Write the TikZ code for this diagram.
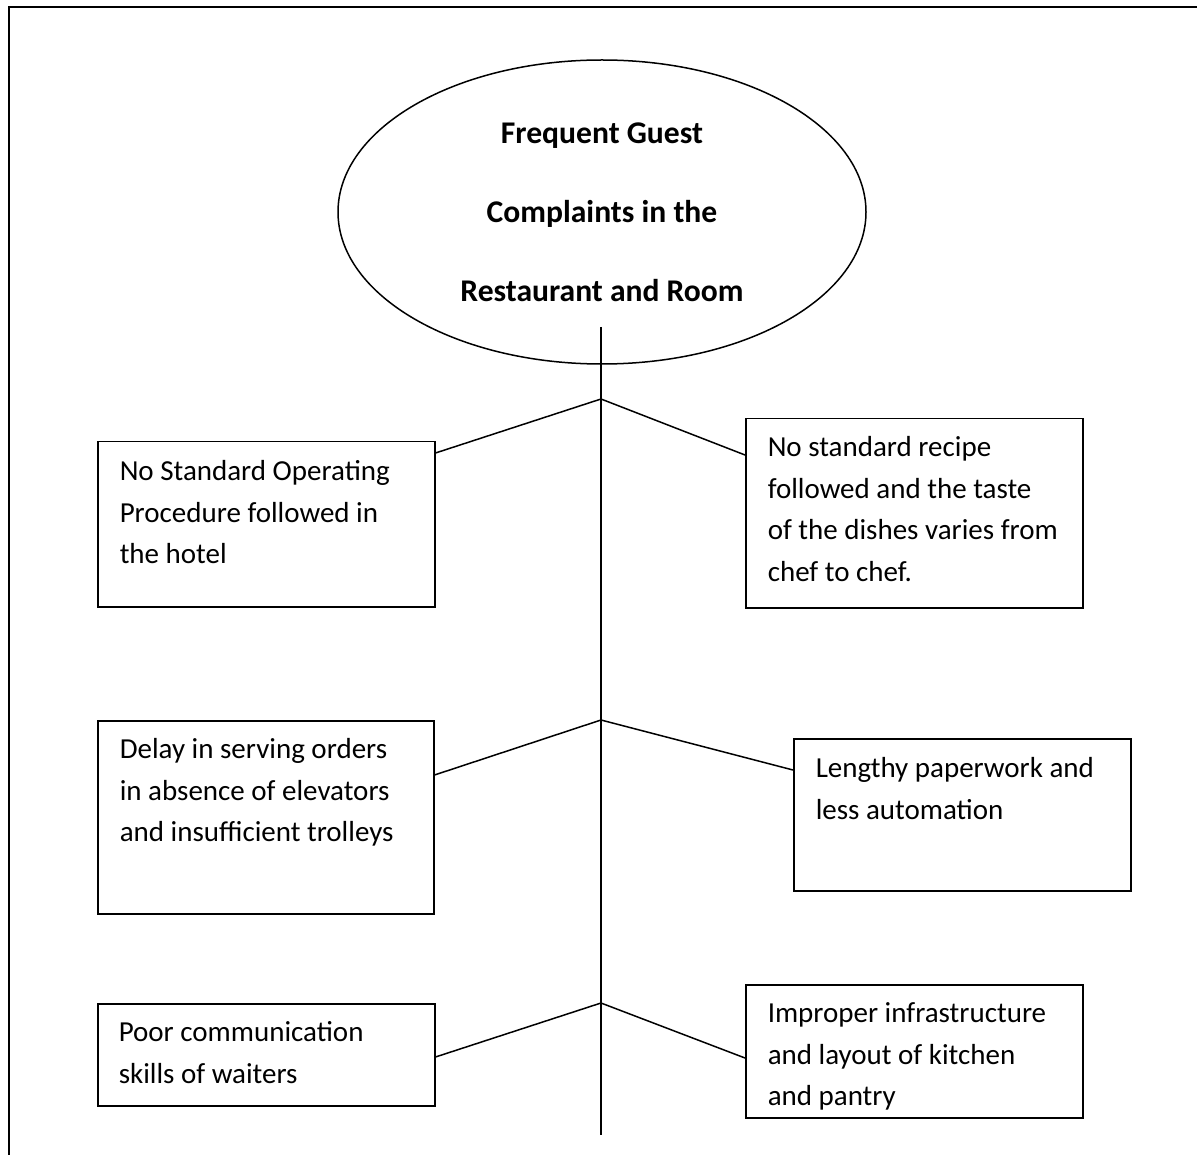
\documentclass[tikz,border=0pt]{standalone}
\usepackage{fontspec}
\setmainfont{Carlito}
\usetikzlibrary{shapes.geometric}

\newcommand{\causefont}{\fontsize{29}{41.5}\selectfont}
\newcommand{\titlefont}{\bfseries\fontsize{31.6}{79}\selectfont}

\begin{document}
\begin{tikzpicture}[x=1pt,y=-1pt,line width=1.5pt,
    goalshape/.style={draw,ellipse,minimum width=528,minimum height=304,inner sep=0pt,align=center,font=\titlefont},
    causebox/.style={draw,rectangle,anchor=north west,inner sep=0pt},
    causetext/.style={anchor=north west,inner sep=0pt,align=left,font=\causefont,execute at begin node=\strut}]
  \useasboundingbox (0,0) rectangle (1197,1155);

  % page frame
  \draw[line width=1.8pt] (9,1155) -- (9,7) -- (1197,7);

  % goal
  \node[goalshape] (goal) at (602,212) {Frequent Guest\\Complaints in the\\Restaurant and Room};

  % spine and junctions
  \coordinate (spinetop) at (601,327);
  \coordinate (spinebot) at (601,1135);
  \coordinate (j1) at (601,399);
  \coordinate (j2) at (601,720);
  \coordinate (j3) at (601,1003);
  \draw (spinetop) -- (spinebot);

  % cause boxes: name/left/top/width/height
  \foreach \nm/\bx/\by/\bw/\bh in {sop/97/441/337/165, recipe/745/418/337/189,
      delay/97/720/336/193, paper/793/738/337/152, comm/97/1003/337/102, infra/745/984/337/133}
    \node[causebox,minimum width=\bw,minimum height=\bh] (\nm) at (\bx,\by) {};

  % texts
  \node[causetext] (sopT) at ([xshift=22pt,yshift=-19pt]sop.north west)
    {No Standard Operating\\Procedure followed in\\the hotel};
  \node[causetext] (recipeT) at ([xshift=22pt,yshift=-18pt]recipe.north west)
    {No standard recipe\\followed and the taste\\of the dishes varies from\\chef to chef.};
  \node[causetext] (delayT) at ([xshift=22pt,yshift=-18pt]delay.north west)
    {Delay in serving orders\\in absence of elevators\\and insufficient trolleys};
  \node[causetext] (paperT) at ([xshift=22pt,yshift=-19pt]paper.north west)
    {Lengthy paperwork and\\less automation};
  \node[causetext] (commT) at ([xshift=21pt,yshift=-18pt]comm.north west)
    {Poor communication\\skills of waiters};
  \node[causetext] (infraT) at ([xshift=22pt,yshift=-18pt]infra.north west)
    {Improper infrastructure\\and layout of kitchen\\and pantry};

  % branches
  \draw (j1) -- ([yshift=-12pt]sop.north east);
  \draw (j1) -- ([yshift=-37pt]recipe.north west);
  \draw (j2) -- ([yshift=-55pt]delay.north east);
  \draw (j2) -- ([yshift=-32pt]paper.north west);
  \draw (j3) -- ([yshift=-54pt]comm.north east);
  \draw (j3) -- ([yshift=-74pt]infra.north west);
\end{tikzpicture}
\end{document}
